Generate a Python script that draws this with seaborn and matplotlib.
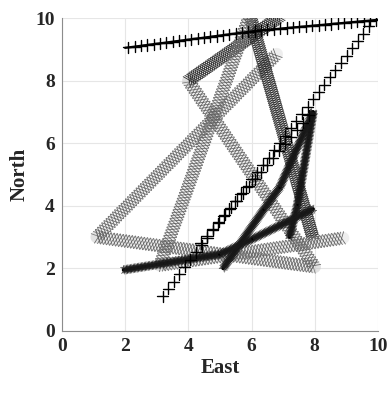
import numpy as np
import matplotlib
matplotlib.use("Agg")
import matplotlib.pyplot as plt
import matplotlib.patheffects as pe
import pandas as pd
import seaborn as sns

# trajectory waypoints (East, North)
ring_a_x = [6.8, 1.1, 8.0, 4.0, 6.9]
ring_a_y = [8.85, 3.0, 2.05, 8.0, 10.05]
ring_b_x = [7.95, 5.95, 3.1, 8.9]
ring_b_y = [2.95, 10.1, 2.1, 2.97]

cross_a_x = [2.0, 6.2, 10.05]
cross_a_y = [9.05, 9.6, 9.95]
cross_b_x = [3.1, 9.8]
cross_b_y = [1.0, 9.85]
cross_c_x = [4.3, 7.9]
cross_c_y = [2.7, 7.0]

star_a_x = [1.95, 5.0, 6.05, 7.95]
star_a_y = [1.95, 2.45, 2.95, 3.9]
star_b_x = [5.1, 6.4, 6.9, 7.95]
star_b_y = [2.0, 3.9, 4.6, 7.0]
star_c_x = [7.95, 7.45, 7.2]
star_c_y = [7.0, 4.0, 3.0]

ticks = [0, 2, 4, 6, 8, 10]

sns.set_style("white")
plt.rcParams['font.family'] = ['Liberation Serif', 'DejaVu Serif']
plt.rcParams['font.weight'] = 'bold'

fig = plt.figure(figsize=(3.92, 3.94), dpi=100)
ax = fig.add_axes([0.158, 0.160, 0.806, 0.794])
ax.set_xlim(0, 10)
ax.set_ylim(0, 10)


def seg_angle(seg):
    p = ax.transData.transform(seg[["East", "North"]].values)
    return np.degrees(np.arctan2(p[1, 1] - p[0, 1], p[1, 0] - p[0, 0]))


def draw_track(xs, ys, kind, dark=()):
    df = pd.DataFrame({"East": xs, "North": ys})
    for i in range(len(df) - 1):
        seg = df.iloc[i:i + 2]
        th = seg_angle(seg)
        sns.lineplot(data=seg, x="East", y="North", sort=False, estimator=None,
                     color="black", lw=1.6, ax=ax)
        line = ax.lines[-1]
        if kind == "cross":
            # '+' markers: vertical and horizontal bars along the track
            steep = abs(np.sin(np.radians(th))) > 0.5
            sp = 6.5 if steep else 4.5
            half = 4.0
            effects = [] if steep else [pe.Normal()]
            for a in (90 - th, -90 - th, -th, 180 - th):
                effects.append(pe.TickedStroke(spacing=sp, angle=a, length=half / sp,
                                               linewidth=1.0, foreground="black"))
        elif kind == "ring":
            # chain of open circles
            d = i in dark
            sp = 1.5 if d else 2.2
            col = "0.15" if d else "0.38"
            half = 4.5
            effects = [pe.Stroke(linewidth=2 * half, foreground="0.75", alpha=0.25)]
            for a in (65, -115, 115, -65):
                effects.append(pe.TickedStroke(spacing=sp, angle=a, length=half / sp / 0.9,
                                               linewidth=0.55, foreground=col))
        else:
            # dense '*' markers
            sp, half = 1.0, 3.2
            effects = [pe.Stroke(linewidth=2.6, foreground="black")]
            for a in (45, 135, -45, -135, 90, -90):
                effects.append(pe.TickedStroke(spacing=sp, angle=a, length=half / sp,
                                               linewidth=0.45, foreground="0.1"))
        line.set_path_effects(effects)


draw_track(ring_a_x, ring_a_y, "ring", dark=(3,))
draw_track(ring_b_x, ring_b_y, "ring", dark=(0,))
draw_track(star_a_x, star_a_y, "star")
draw_track(star_b_x, star_b_y, "star")
draw_track(star_c_x, star_c_y, "star")
draw_track(cross_a_x, cross_a_y, "cross")
draw_track(cross_b_x, cross_b_y, "cross")
draw_track(cross_c_x, cross_c_y, "cross")

ax.set_xticks(ticks)
ax.set_yticks(ticks)
ax.set_xticklabels([str(t) for t in ticks], fontsize=14, fontweight="bold")
ax.set_yticklabels([str(t) for t in ticks], fontsize=14, fontweight="bold")
ax.grid(True, color="#e6e6e6", lw=0.8)
ax.set_axisbelow(True)
ax.tick_params(direction="in", length=3, color="0.5", pad=5)
for s in ("top", "right"):
    ax.spines[s].set_visible(False)
for s in ("left", "bottom"):
    ax.spines[s].set_color("0.55")
    ax.spines[s].set_linewidth(0.8)
ax.set_xlabel("East", fontsize=15, fontweight="bold", labelpad=2)
ax.set_ylabel("North", fontsize=15, fontweight="bold", labelpad=4)

fig.savefig("out.png", dpi=100)
